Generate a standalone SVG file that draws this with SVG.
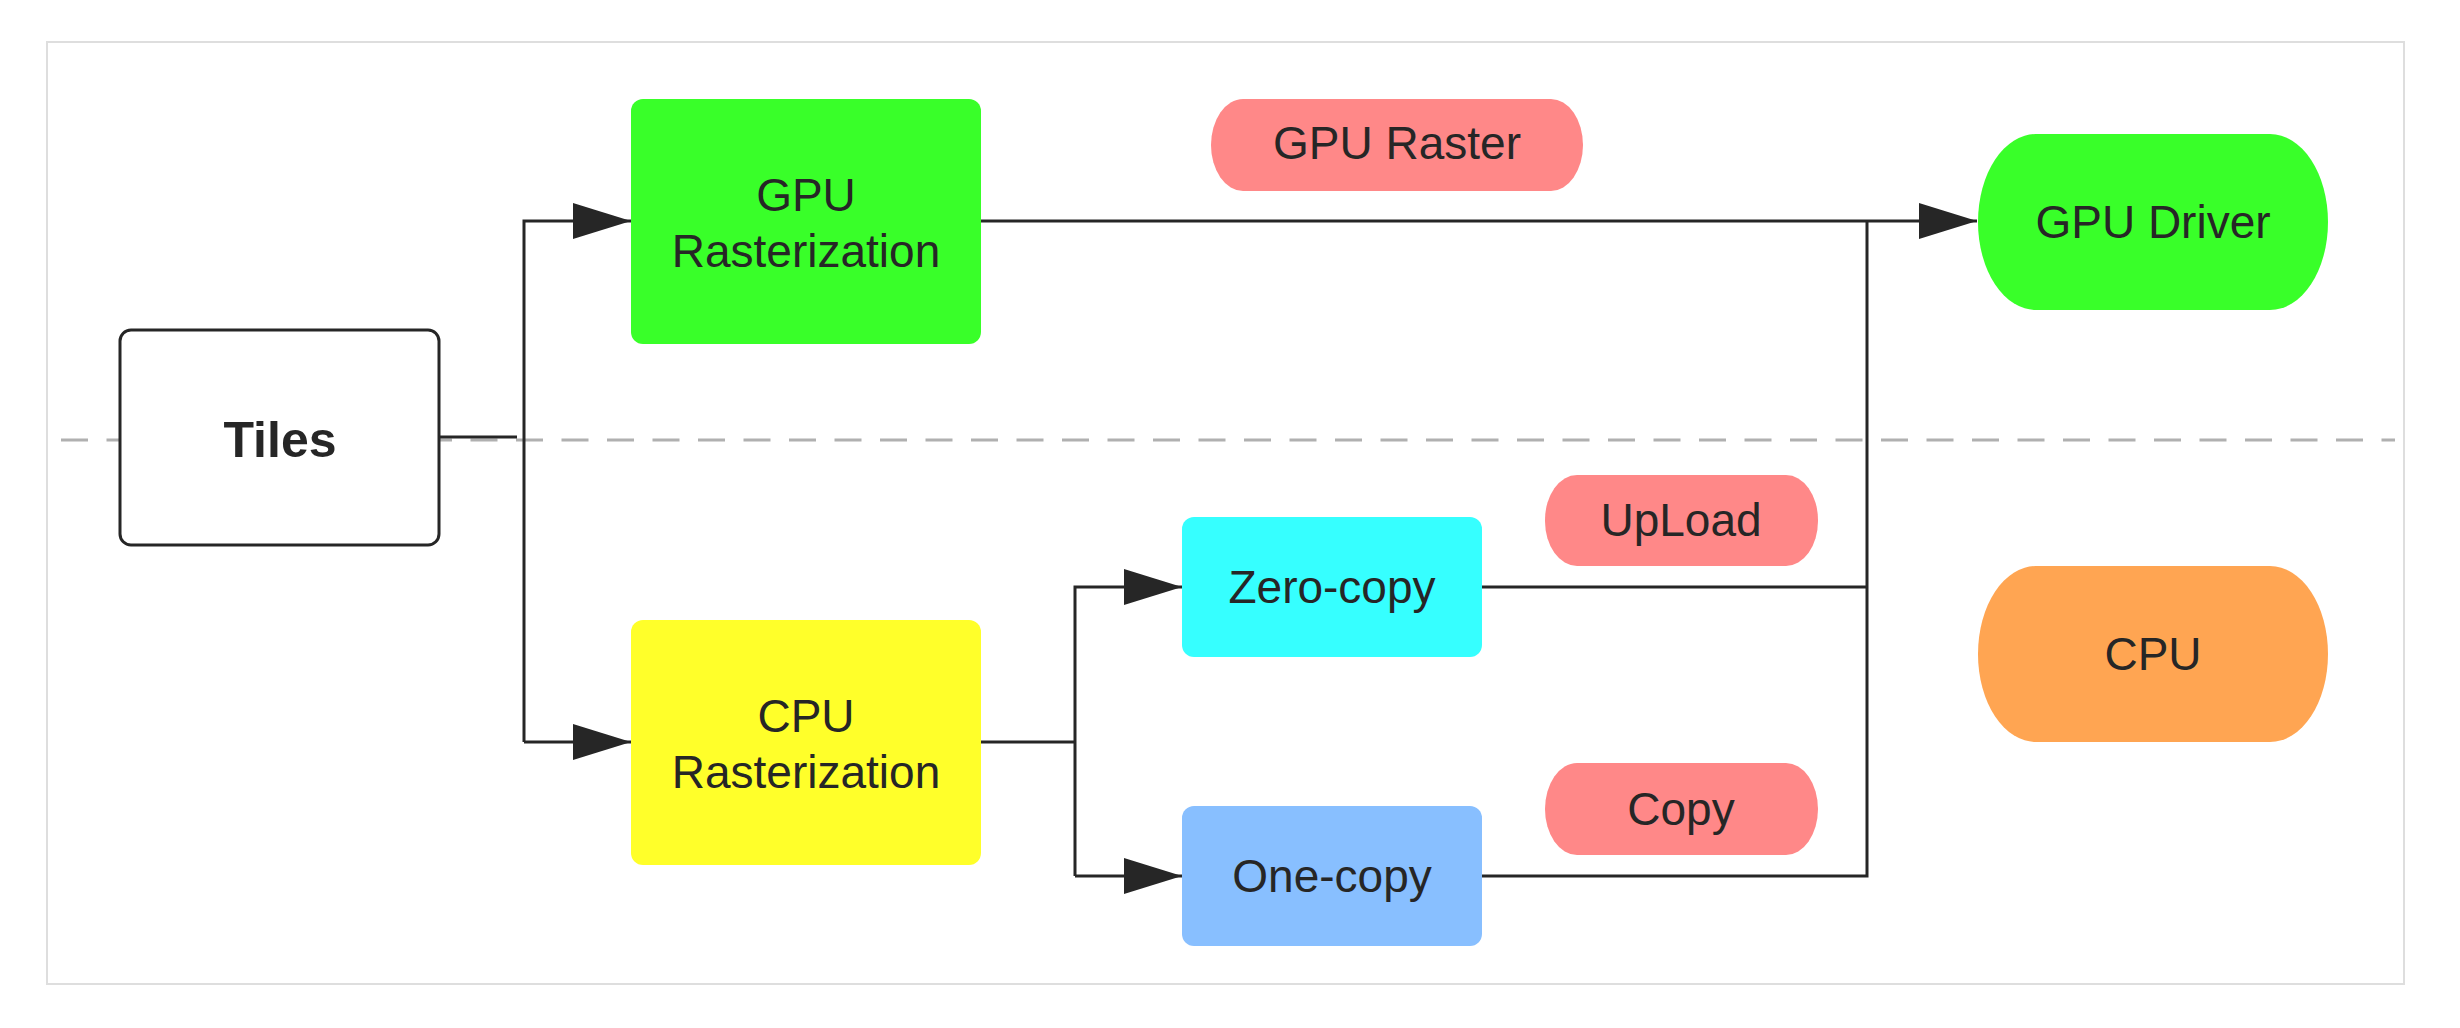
<svg xmlns="http://www.w3.org/2000/svg" width="2460" height="1028" viewBox="0 0 2460 1028">
<defs>
<style>
.t{font-family:"Liberation Sans",Arial,sans-serif;font-size:46px;fill:#262626;text-anchor:middle}
.b{font-weight:bold;font-size:50px}
.ln{fill:none;stroke:#262626;stroke-width:3}
</style>
<marker id="ah" viewBox="0 0 58 36" refX="58" refY="18" markerWidth="58" markerHeight="36" markerUnits="userSpaceOnUse" orient="auto">
<path d="M0,0 L58,18 L0,36 Z" fill="#262626"/>
</marker>
</defs>
<rect width="2460" height="1028" fill="#ffffff"/>
<rect x="47" y="42" width="2357" height="942" fill="#ffffff" stroke="#dedede" stroke-width="2"/>
<line x1="61" y1="440" x2="2395" y2="440" stroke="#b0b0b0" stroke-width="3" stroke-dasharray="27 18.5"/>
<g id="connectors">
<path class="ln" d="M439,437 H517"/>
<path class="ln" d="M524,742 V221 H631" marker-end="url(#ah)"/>
<path class="ln" d="M524,742 H631" marker-end="url(#ah)"/>
<path class="ln" d="M981,742 H1075"/>
<path class="ln" d="M1075,876 V587 H1182" marker-end="url(#ah)"/>
<path class="ln" d="M1075,876 H1182" marker-end="url(#ah)"/>
<path class="ln" d="M981,221 H1977" marker-end="url(#ah)"/>
<path class="ln" d="M1482,587 H1867"/>
<path class="ln" d="M1482,876 H1867 V221"/>
</g>
<g id="tiles">
<rect x="120" y="330" width="319" height="215" rx="11" fill="#ffffff" stroke="#262626" stroke-width="3"/>
<text class="t b" x="280" y="457">Tiles</text>
</g>
<g id="gpu-rasterization">
<rect x="631" y="99" width="350" height="245" rx="12" fill="#39ff29"/>
<text class="t" x="806" y="211">GPU</text>
<text class="t" x="806" y="267">Rasterization</text>
</g>
<g id="cpu-rasterization">
<rect x="631" y="620" width="350" height="245" rx="12" fill="#ffff2a"/>
<text class="t" x="806" y="732">CPU</text>
<text class="t" x="806" y="788">Rasterization</text>
</g>
<g id="zero-copy">
<rect x="1182" y="517" width="300" height="140" rx="12" fill="#36ffff"/>
<text class="t" x="1332" y="603">Zero-copy</text>
</g>
<g id="one-copy">
<rect x="1182" y="806" width="300" height="140" rx="12" fill="#88bfff"/>
<text class="t" x="1332" y="892">One-copy</text>
</g>
<g id="gpu-raster">
<rect x="1211" y="99" width="372" height="92" rx="32" ry="46" fill="#ff8888"/>
<text class="t" x="1397" y="159">GPU Raster</text>
</g>
<g id="upload">
<rect x="1545" y="475" width="273" height="91" rx="32" ry="45" fill="#ff8888"/>
<text class="t" x="1681" y="536">UpLoad</text>
</g>
<g id="copy">
<rect x="1545" y="763" width="273" height="92" rx="32" ry="46" fill="#ff8888"/>
<text class="t" x="1681" y="825">Copy</text>
</g>
<g id="gpu-driver">
<rect x="1978" y="134" width="350" height="176" rx="58" ry="88" fill="#39ff29"/>
<text class="t" x="2153" y="238">GPU Driver</text>
</g>
<g id="cpu">
<rect x="1978" y="566" width="350" height="176" rx="58" ry="88" fill="#ffa552"/>
<text class="t" x="2153" y="670">CPU</text>
</g>
</svg>
